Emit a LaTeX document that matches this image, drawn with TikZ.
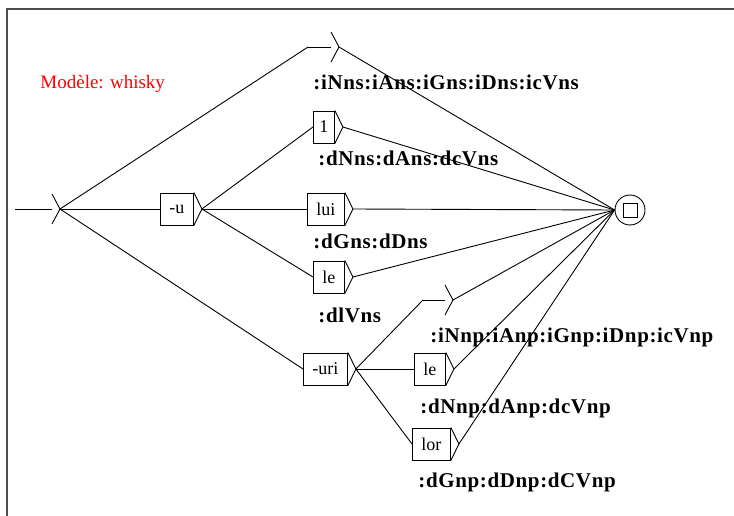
\documentclass[tikz,border=0pt]{standalone}
\usepackage{fontspec}
\setmainfont{Liberation Serif}
\newfontfamily\sortiefont[LetterSpace=3]{Liberation Serif}
\usepackage{tikz}

% triangle de sortie d'une boite, pointe nommee <nom>t
\newcommand{\pointe}[1]{\draw (#1.north east) -- ([xshift=8pt]#1.east) coordinate (#1t) -- (#1.south east);}

\begin{document}
\begin{tikzpicture}[x = 1pt, y = -1pt, line width=0.9pt,
	boite/.style = {draw, rectangle, anchor=west, minimum height=32pt, inner xsep=9pt, inner ysep=0pt, font=\fontsize{18}{18}\selectfont},
	vide/.style = {minimum height=30pt, minimum width=0pt, inner sep=0pt, outer sep=0pt},
	sortie/.style = {anchor=base west, inner sep=0pt, font=\fontsize{21}{21}\sortiefont\bfseries}]
	\useasboundingbox (0,0) rectangle (734,516);
	\draw[line width=2pt, black!70] (734,9) -- (7,9) -- (7,516);
	\node[anchor=base west, inner sep=0pt, text=red, font=\fontsize{19}{19}\selectfont] (modele) at (40,89) {Modèle: whisky};
	% etat initial
	\coordinate (entree) at (15,209);
	\node[vide] (init) at (52,209) {};
	\draw (entree) -- (init.west);
	\pointe{init}
	% boites
	\node[vide] (e1) at (331,47) {};
	\coordinate (e1g) at (308,47);
	\draw (e1g) -- (e1);
	\pointe{e1}
	\node[boite] (u) at (160,209) {-u};
	\pointe{u}
	\node[boite, inner xsep=6pt] (un) at (313,127) {1};
	\pointe{un}
	\node[boite] (lui) at (307,209) {lui};
	\pointe{lui}
	\node[boite] (le) at (313,277) {le};
	\pointe{le}
	\node[vide] (e2) at (445,300) {};
	\coordinate (e2g) at (423,300);
	\draw (e2g) -- (e2);
	\pointe{e2}
	\node[boite] (uri) at (303,369) {-uri};
	\pointe{uri}
	\node[boite] (led) at (414,369) {le};
	\pointe{led}
	\node[boite] (lor) at (412,444) {lor};
	\pointe{lor}
	% etat final
	\node[draw, circle, minimum size=30pt, inner sep=0pt] (fin) at (630,210) {};
	\node[draw, minimum size=14pt, inner sep=0pt] (carre) at (fin) {};
	% sorties
	\node[sortie] (s1) at (313,90) {:iNns:iAns:iGns:iDns:icVns};
	\node[sortie] (s2) at (318,166) {:dNns:dAns:dcVns};
	\node[sortie] (s3) at (313,248) {:dGns:dDns};
	\node[sortie] (s4) at (318,322) {:dlVns};
	\node[sortie] (s5) at (430,342) {:iNnp:iAnp:iGnp:iDnp:icVnp};
	\node[sortie] (s6) at (420,413) {:dNnp:dAnp:dcVnp};
	\node[sortie] (s7) at (418,487) {:dGnp:dDnp:dCVnp};
	% transitions
	\draw (initt) -- (e1g);
	\draw (initt) -- (u.west);
	\draw (initt) -- (uri.west);
	\draw (ut) -- (un.west);
	\draw (ut) -- (lui.west);
	\draw (ut) -- (le.west);
	\draw (urit) -- (e2g);
	\draw (urit) -- (led.west);
	\draw (urit) -- (lor.west);
	\draw (e1t) -- (fin.west);
	\draw (unt) -- (fin.west);
	\draw (luit) -- (fin.west);
	\draw (let) -- (fin.west);
	\draw (e2t) -- (fin.west);
	\draw (ledt) -- (fin.west);
	\draw (lort) -- (fin.west);
\end{tikzpicture}
\end{document}
